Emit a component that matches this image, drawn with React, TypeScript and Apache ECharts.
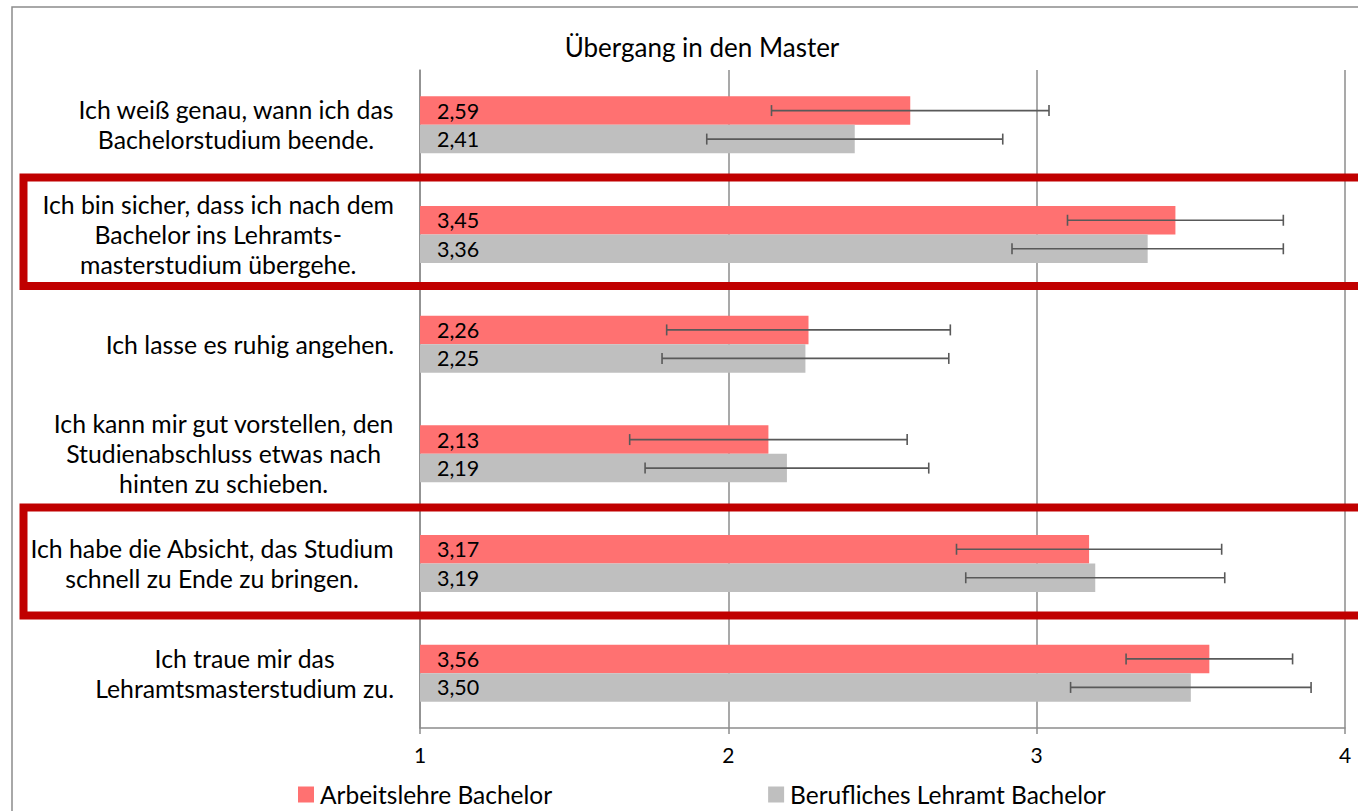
import React, { useEffect, useRef } from 'react';
import * as echarts from 'echarts';

const FONT = 'Lato, "DejaVu Sans", sans-serif';

const chartTitle = 'Übergang in den Master';
const categories = [
  'Ich weiß genau, wann ich das\nBachelorstudium beende.',
  'Ich bin sicher, dass ich nach dem\nBachelor ins Lehramts-\nmasterstudium übergehe.',
  'Ich lasse es ruhig angehen.',
  'Ich kann mir gut vorstellen, den\nStudienabschluss etwas nach\nhinten zu schieben.',
  'Ich habe die Absicht, das Studium\nschnell zu Ende zu bringen.',
  'Ich traue mir das\nLehramtsmasterstudium zu.',
];
const seriesNames = ['Arbeitslehre Bachelor', 'Berufliches Lehramt Bachelor'];
const arbeitslehre = [2.59, 3.45, 2.26, 2.13, 3.17, 3.56];
const beruflich = [2.41, 3.36, 2.25, 2.19, 3.19, 3.5];
const arbeitslehreErr = [0.45, 0.35, 0.46, 0.45, 0.43, 0.27];
const beruflichErr = [0.48, 0.44, 0.465, 0.46, 0.42, 0.39];
const xTicks = [1, 2, 3, 4];

const RED = '#FF7171';
const GRAY = '#BFBFBF';

function errorSeries(values: number[], errs: number[], side: number) {
  return {
    type: 'custom',
    z: 5,
    silent: true,
    encode: { x: [1, 2], y: 0 },
    data: values.map((v, i) => [i, v - errs[i], v + errs[i]]),
    renderItem: (params: any, api: any) => {
      const ci = api.value(0);
      const lo = api.coord([api.value(1), ci]);
      const hi = api.coord([api.value(2), ci]);
      const band = api.size([0, 1])[1];
      const y = lo[1] + side * band * 0.13;
      const cap = 5.5;
      const style = { stroke: '#595959', lineWidth: 1.6 };
      return {
        type: 'group',
        children: [
          { type: 'line', shape: { x1: lo[0], y1: y, x2: hi[0], y2: y }, style },
          { type: 'line', shape: { x1: lo[0], y1: y - cap, x2: lo[0], y2: y + cap }, style },
          { type: 'line', shape: { x1: hi[0], y1: y - cap, x2: hi[0], y2: y + cap }, style },
        ],
      };
    },
  };
}

export default function App() {
  const ref = useRef<HTMLDivElement>(null);
  useEffect(() => {
    const chart = echarts.init(ref.current!, undefined, { renderer: 'svg' });
    const labelFmt = (p: any) => Number(p.value).toFixed(2).replace('.', ',');
    chart.setOption({
      animation: false,
      backgroundColor: '#fff',
      textStyle: { fontFamily: FONT },
      title: {
        text: chartTitle,
        left: 697,
        textAlign: 'center',
        top: 29,
        textStyle: { fontFamily: FONT, fontSize: 26, fontWeight: 'normal', color: '#000' },
      },
      legend: {
        data: seriesNames,
        left: 293,
        top: 777,
        itemWidth: 16,
        itemHeight: 16,
        itemGap: 216,
        icon: 'rect',
        textStyle: { fontFamily: FONT, fontSize: 24.5, color: '#000', padding: [0, 0, 0, 1] },
      },
      grid: { left: 420, right: 13, top: 70, bottom: 83, containLabel: false },
      xAxis: {
        type: 'value',
        min: xTicks[0],
        max: xTicks[xTicks.length - 1],
        interval: 1,
        axisLine: { show: true, lineStyle: { color: '#8C8C8C', width: 1.5 } },
        axisTick: { show: true, length: 6, lineStyle: { color: '#8C8C8C', width: 1.5 } },
        splitLine: { show: true, lineStyle: { color: '#8C8C8C', width: 1.5 } },
        axisLabel: { fontFamily: FONT, fontSize: 21, color: '#000', margin: 16 },
      },
      yAxis: {
        type: 'category',
        inverse: true,
        data: categories,
        axisLine: { show: true, lineStyle: { color: '#8C8C8C', width: 1.5 } },
        axisTick: { show: false },
        axisLabel: {
          margin: 26,
          formatter: (v: string) => v.split('\n').map((l) => `{c|${l}}`).join('\n'),
          rich: {
            c: { align: 'center', fontFamily: FONT, fontSize: 24.8, lineHeight: 30, color: '#000' },
          },
        },
      },
      series: [
        {
          name: seriesNames[0],
          type: 'bar',
          data: arbeitslehre,
          barWidth: 28.5,
          barGap: '0%',
          itemStyle: { color: RED },
          label: { show: true, position: 'insideLeft', distance: 17, formatter: labelFmt, fontFamily: FONT, fontSize: 21.5, color: '#000' },
        },
        {
          name: seriesNames[1],
          type: 'bar',
          data: beruflich,
          barWidth: 28.5,
          barGap: '0%',
          itemStyle: { color: GRAY },
          label: { show: true, position: 'insideLeft', distance: 17, formatter: labelFmt, fontFamily: FONT, fontSize: 21.5, color: '#000' },
        },
        errorSeries(arbeitslehre, arbeitslehreErr, -1),
        errorSeries(beruflich, beruflichErr, 1),
      ],
      graphic: [
        { type: 'rect', z: 100, silent: true, shape: { x: 12, y: 7, width: 1400, height: 900 }, style: { fill: 'none', stroke: '#8C8C8C', lineWidth: 1.5 } },
        { type: 'rect', z: 100, silent: true, shape: { x: 23.5, y: 177.5, width: 1400, height: 108.5 }, style: { fill: 'none', stroke: '#C00000', lineWidth: 8 } },
        { type: 'rect', z: 100, silent: true, shape: { x: 23.5, y: 507.5, width: 1400, height: 108 }, style: { fill: 'none', stroke: '#C00000', lineWidth: 8 } },
      ],
    });
    return () => chart.dispose();
  }, []);
  return <div ref={ref} style={{ position: 'fixed', left: 0, top: 0, width: 1358, height: 811 }} />;
}
